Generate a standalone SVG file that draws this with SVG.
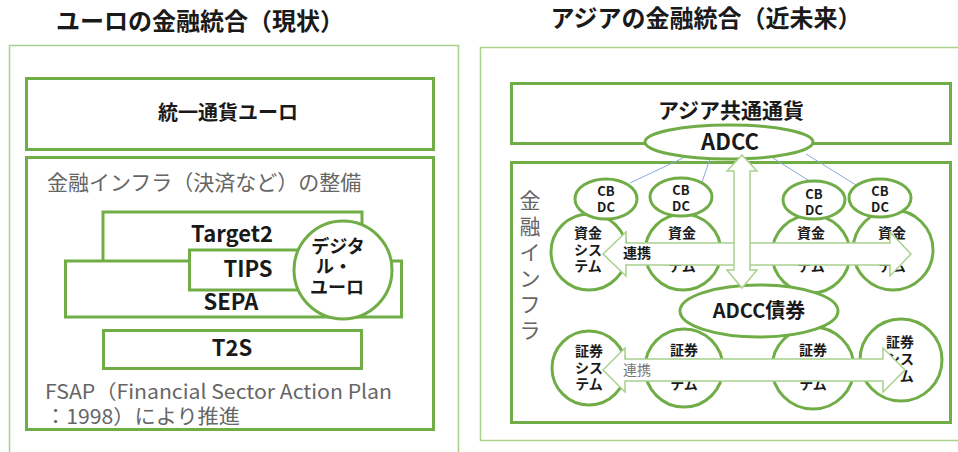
<svg xmlns="http://www.w3.org/2000/svg" width="958" height="452" viewBox="0 0 958 452">
<style>
text{font-family:"Noto Sans CJK JP","Noto Sans",sans-serif;fill:#1a1a1a}
.t{font-size:24px;font-weight:bold;text-anchor:middle}
.g{fill:none;stroke:#70AD47;stroke-width:3}
.gw{fill:#fff;stroke:#70AD47;stroke-width:3}
.thin{fill:none;stroke:#A9D18E;stroke-width:1.5}
.arr{fill:#fff;stroke:#A9D18E;stroke-width:1.5}
.b22{font-size:22px;font-weight:bold;text-anchor:middle}
.s14{font-size:14px;font-weight:bold;text-anchor:middle}
.s13{font-size:13px;font-weight:bold;text-anchor:middle}
.gray{fill:#666;font-size:20px}
.blue{stroke:#8FAADC;stroke-width:1}
</style>
<rect width="958" height="452" fill="#fff"/>
<g id="left-title"><text class="t" x="200" y="30">ユーロの金融統合（現状）</text></g>
<g id="right-title"><text class="t" x="706" y="27">アジアの金融統合（近未来）</text></g>

<g id="left-panel">
<rect class="thin" x="9.5" y="45.5" width="449" height="420"/>
</g>
<g id="euro-currency">
<rect class="g" x="26.5" y="78.5" width="407" height="71"/>
<text x="228" y="120" style="font-size:20px;font-weight:bold;text-anchor:middle">統一通貨ユーロ</text>
</g>
<g id="euro-infra">
<rect class="g" x="26.5" y="157.5" width="407" height="272"/>
<text class="gray" x="47" y="190" style="font-size:21px">金融インフラ（決済など）の整備</text>
</g>
<g id="target2">
<rect class="gw" x="103" y="212" width="259" height="60"/>
<text class="b22" x="232" y="242">Target2</text>
</g>
<g id="sepa">
<rect class="gw" x="65.5" y="261" width="336" height="56"/>
<text class="b22" x="231" y="310">SEPA</text>
</g>
<g id="tips">
<rect class="gw" x="189.5" y="250" width="140" height="40"/>
<text class="b22" x="248" y="277">TIPS</text>
</g>
<g id="digital-euro">
<circle class="gw" cx="343" cy="270" r="49"/>
<text x="338" y="253" style="font-size:18px;font-weight:bold;text-anchor:middle">デジタ</text>
<text x="334" y="273" style="font-size:18px;font-weight:bold;text-anchor:middle">ル・</text>
<text x="337" y="294" style="font-size:18px;font-weight:bold;text-anchor:middle">ユーロ</text>
</g>
<g id="t2s">
<rect class="g" x="103.5" y="330.5" width="258" height="38"/>
<text class="b22" x="232" y="356">T2S</text>
</g>
<g id="fsap">
<text class="gray" x="45" y="399" style="font-size:20px" textLength="347" lengthAdjust="spacingAndGlyphs">FSAP（Financial Sector Action Plan</text>
<text class="gray" x="45" y="424" style="font-size:20px" textLength="195" lengthAdjust="spacingAndGlyphs">：1998）により推進</text>
</g>

<g id="right-panel">
<rect class="thin" x="480.5" y="47.5" width="485" height="393"/>
</g>
<g id="asia-currency">
<rect class="g" x="511.5" y="83.5" width="439" height="60"/>
<text x="731" y="118" style="font-size:21px;font-weight:bold;text-anchor:middle">アジア共通通貨</text>
</g>
<g id="asia-infra">
<rect class="g" x="511.5" y="162.5" width="439" height="260"/>
<text class="gray" x="530" style="font-size:21px;text-anchor:middle"><tspan x="530" y="208">金</tspan><tspan x="530" y="234">融</tspan><tspan x="530" y="260">イ</tspan><tspan x="530" y="286">ン</tspan><tspan x="530" y="312">フ</tspan><tspan x="530" y="338">ラ</tspan></text>
</g>

<g id="connectors">
<line class="blue" x1="630" y1="183" x2="683" y2="158"/>
<line class="blue" x1="702" y1="182" x2="710" y2="159"/>
<line class="blue" x1="773" y1="158" x2="811" y2="182"/>
<line class="blue" x1="806" y1="154" x2="856" y2="185"/>
</g>

<g id="fund-sys-1"><circle class="gw" cx="589" cy="252" r="38"/>
<text class="s14" x="588" y="238">資金</text><text class="s14" x="588" y="255">シス</text><text class="s14" x="588" y="271">テム</text></g>
<g id="fund-sys-2"><circle class="gw" cx="683" cy="252" r="38"/>
<text class="s14" x="682" y="238">資金</text><text class="s14" x="682" y="255">シス</text><text class="s14" x="682" y="271">テム</text></g>
<g id="fund-sys-3"><circle class="gw" cx="811" cy="254" r="39"/>
<text class="s14" x="811" y="238">資金</text><text class="s14" x="811" y="255">シス</text><text class="s14" x="811" y="271">テム</text></g>
<g id="fund-sys-4"><circle class="gw" cx="893" cy="250" r="40"/>
<text class="s14" x="892" y="238">資金</text><text class="s14" x="892" y="255">シス</text><text class="s14" x="892" y="271">テム</text></g>

<g id="cbdc-1"><ellipse class="gw" cx="606" cy="199" rx="31" ry="20"/>
<text class="s13" x="606" y="196">CB</text><text class="s13" x="606" y="212">DC</text></g>
<g id="cbdc-2"><ellipse class="gw" cx="681" cy="197" rx="31" ry="19"/>
<text class="s13" x="681" y="195">CB</text><text class="s13" x="681" y="211">DC</text></g>
<g id="cbdc-3"><ellipse class="gw" cx="814" cy="200" rx="31" ry="19"/>
<text class="s13" x="814" y="199">CB</text><text class="s13" x="814" y="215">DC</text></g>
<g id="cbdc-4"><ellipse class="gw" cx="880" cy="198" rx="31" ry="19"/>
<text class="s13" x="880" y="196">CB</text><text class="s13" x="880" y="212">DC</text></g>

<g id="sec-sys-1"><circle class="gw" cx="589" cy="368" r="37"/>
<text class="s14" x="589" y="356">証券</text><text class="s14" x="589" y="373">シス</text><text class="s14" x="589" y="389">テム</text></g>
<g id="sec-sys-2"><circle class="gw" cx="684" cy="368" r="39"/>
<text class="s14" x="684" y="355">証券</text><text class="s14" x="684" y="372">シス</text><text class="s14" x="684" y="389">テム</text></g>
<g id="sec-sys-3"><circle class="gw" cx="813" cy="368" r="41"/>
<text class="s14" x="813" y="355">証券</text><text class="s14" x="813" y="372">シス</text><text class="s14" x="813" y="389">テム</text></g>
<g id="sec-sys-4"><circle class="gw" cx="901" cy="360" r="41"/>
<text class="s14" x="900" y="347">証券</text><text class="s14" x="900" y="364">シス</text><text class="s14" x="900" y="381">テム</text></g>

<g id="adcc-bond"><ellipse class="gw" cx="759" cy="311" rx="79" ry="26"/>
<text x="759" y="318" style="font-size:20px;font-weight:bold;text-anchor:middle">ADCC債券</text></g>

<g id="adcc"><ellipse class="gw" cx="729" cy="142" rx="84" ry="17"/>
<text class="b22" x="730" y="150">ADCC</text></g>

<g id="link-arrows">
<path class="arr" d="M603,254 L626,232 L626,243 L890,243 L890,232 L911,254 L890,276 L890,265 L626,265 L626,276 Z"/>
<text x="623" y="258" style="font-size:14px;font-weight:bold">連携</text>
<path class="arr" d="M603,370 L625,348 L625,359 L883,359 L883,348 L905,370 L883,392 L883,381 L625,381 L625,392 Z"/>
<text x="623" y="375" style="font-size:14px;fill:#777">連携</text>
<path class="arr" d="M742,155 L757,171 L750,171 L750,270 L757,270 L742,288 L727,270 L734,270 L734,171 L727,171 Z"/>
</g>
</svg>
